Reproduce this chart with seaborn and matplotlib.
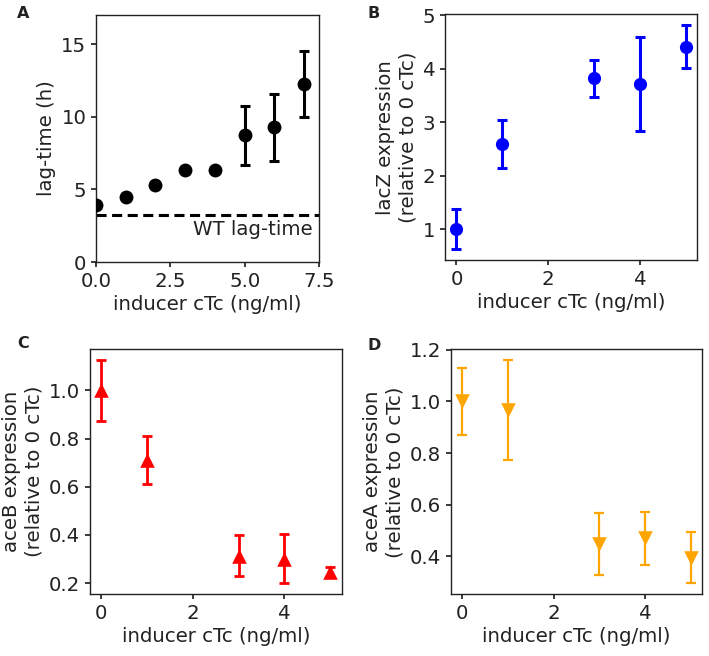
import pandas as pd
import matplotlib
matplotlib.use("Agg")
import matplotlib.pyplot as plt
import seaborn as sns

# --- dados ---
# A: lag-time
cTc_A = [0, 1, 2, 3, 4, 5, 6, 7]
lag_mean = [3.94, 4.5, 5.3, 6.33, 6.33, 8.72, 9.27, 12.25]
lag_err = [0.0, 0.0, 0.0, 0.0, 0.0, 2.05, 2.32, 2.28]
wt_lag = 3.21

# B-D: expressao relativa
cTc = [0, 1, 3, 4, 5]
lacZ_mean = [1.0, 2.6, 3.82, 3.71, 4.41]
lacZ_err = [0.37, 0.45, 0.35, 0.88, 0.40]
aceB_mean = [1.0, 0.712, 0.313, 0.302, 0.246]
aceB_err = [0.126, 0.10, 0.085, 0.102, 0.021]
aceA_mean = [1.0, 0.965, 0.45, 0.47, 0.395]
aceA_err = [0.13, 0.193, 0.12, 0.103, 0.098]

XLABEL = "inducer cTc (ng/ml)"
FS = 14.2

sns.set_theme(style="ticks")
plt.rcParams["font.family"] = ["DejaVu Sans"]
plt.rcParams.update({
    "axes.edgecolor": "#222222",
    "axes.linewidth": 1.0,
    "xtick.major.size": 3.5,
    "ytick.major.size": 3.5,
    "xtick.labelsize": FS,
    "ytick.labelsize": FS,
    "axes.labelsize": FS,
    "xtick.color": "#222222",
    "ytick.color": "#222222",
    "text.color": "#222222",
    "axes.labelcolor": "#222222",
})

fig = plt.figure(figsize=(7.09, 6.56), dpi=100)
axA = fig.add_axes([0.1354, 0.6006, 0.3145, 0.3765])
axB = fig.add_axes([0.6276, 0.6037, 0.3559, 0.3745])
axC = fig.add_axes([0.1269, 0.0941, 0.3550, 0.3740])
axD = fig.add_axes([0.6357, 0.0941, 0.3549, 0.3735])


def painel(ax, x, media, erro, cor, marcador, ms, lw, ylabel):
    df = pd.DataFrame({"x": x, "y": media, "e": erro})
    ax.errorbar(df["x"], df["y"], yerr=df["e"], fmt="none", ecolor=cor,
                elinewidth=lw, capsize=3.5, capthick=lw, zorder=2)
    sns.scatterplot(data=df, x="x", y="y", ax=ax, color=cor, marker=marcador,
                    s=ms ** 2, edgecolor=cor, linewidth=0, zorder=3, legend=False)
    ax.set_xlabel(XLABEL, labelpad=3)
    ax.set_ylabel(ylabel, labelpad=4)
    for s in ax.spines.values():
        s.set_visible(True)


# A
painel(axA, cTc_A, lag_mean, lag_err, "black", "o", 10, 2.2, "lag-time (h)")
axA.axhline(wt_lag, color="black", ls="--", lw=2.2, dashes=(3.3, 1.8))
axA.text(7.27, wt_lag - 0.3, "WT lag-time", ha="right", va="top", fontsize=FS)
axA.set_xlim(0, 7.5)
axA.set_ylim(0, 17)
axA.set_xticks([0, 2.5, 5, 7.5])
axA.set_xticklabels(["0.0", "2.5", "5.0", "7.5"])
axA.set_yticks([0, 5, 10, 15])

# B
painel(axB, cTc, lacZ_mean, lacZ_err, "blue", "o", 9.5, 2.2,
       "lacZ expression\n(relative to 0 cTc)")
axB.set_xticks([0, 2, 4])
axB.set_yticks([1, 2, 3, 4, 5])

# C
painel(axC, cTc, aceB_mean, aceB_err, "red", "^", 10.5, 2.0,
       "aceB expression\n(relative to 0 cTc)")
axC.set_xticks([0, 2, 4])
axC.set_yticks([0.2, 0.4, 0.6, 0.8, 1.0])

# D
painel(axD, cTc, aceA_mean, aceA_err, "orange", "v", 10.5, 1.6,
       "aceA expression\n(relative to 0 cTc)")
axD.set_xticks([0, 2, 4])
axD.set_yticks([0.4, 0.6, 0.8, 1.0, 1.2])

for letra, (x, y) in zip("ABCD", [(0.024, 0.980), (0.518, 0.980),
                                  (0.024, 0.476), (0.518, 0.474)]):
    fig.text(x, y, letra, fontsize=11.5, fontweight="bold", ha="left", va="center")

fig.savefig("out.png", dpi=100)
